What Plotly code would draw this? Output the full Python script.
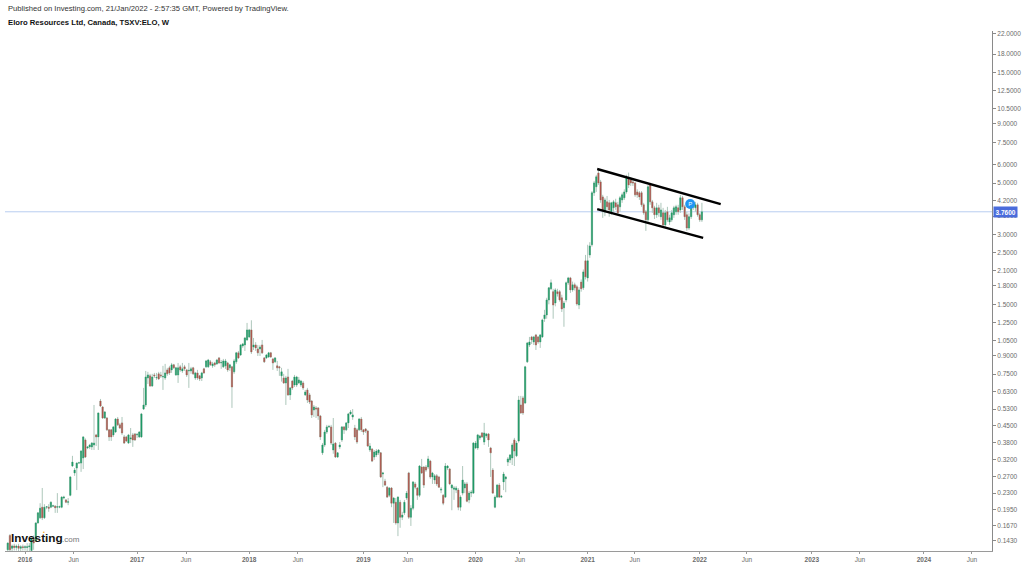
import math
import pandas as pd
import plotly.graph_objects as go

start_week = "2015-11-09"

opens = [
.131,.151,.133,.136,.134,.136,.133,.135,.134,.134,
.135,.130,.147,.143,.171,.180,.200,.180,.200,.200,
.200,.202,.202,.200,.200,.200,.219,.215,.210,.225,
.301,.281,.295,.310,.310,.326,.390,.360,.364,.364,
.371,.410,.402,.574,.541,.485,.485,.431,.431,.410,
.422,.480,.453,.462,.402,.402,.378,.394,.410,.414,
.410,.402,.402,.530,.552,.722,.737,.667,.744,.722,
.752,.744,.729,.722,.782,.798,.782,.822,.744,.744,
.806,.774,.806,.782,.774,.774,.798,.722,.759,.737,
.722,.790,.806,.806,.847,.814,.838,.830,.881,.838,
.806,.814,.838,.798,.806,.767,.847,.926,.907,.992,
1.002,1.053,1.085,1.163,.982,1.002,.963,.963,1.002,.881,
.881,.889,.926,.872,.847,.814,.806,.737,.722,.687,
.729,.610,.700,.673,.673,.687,.673,.687,.610,.641,
.610,.574,.525,.536,.536,.495,.343,.371,.422,.444,
.444,.353,.378,.329,.364,.390,.444,.431,.462,.505,
.490,.439,.431,.431,.480,.431,.435,.426,.353,.356,
.329,.336,.343,.343,.278,.259,.244,.225,.242,.208,
.210,.171,.210,.181,.189,.219,.281,.181,.198,.252,
.242,.225,.298,.298,.298,.298,.316,.270,.262,.273,
.270,.237,.225,.221,.295,.292,.242,.239,.237,.237,
.200,.230,.242,.252,.215,.230,.230,.360,.360,.398,
.418,.382,.406,.414,.360,.289,.200,.221,.249,.221,
.257,.265,.313,.320,.326,.390,.333,.386,.552,.592,
.563,.847,1.002,1.085,1.032,1.107,1.085,1.032,1.085,1.30,
1.35,1.567,1.75,1.70,1.52,1.70,1.70,1.60,1.448,1.567,
1.857,1.95,1.731,1.82,1.785,1.49,1.87,1.767,2.31,1.95,
2.45,2.71,4.54,4.82,5.53,5.06,4.36,3.76,4.15,4.11,
3.76,3.91,4.11,4.03,3.95,4.23,4.32,4.58,5.25,5.16,
5.06,5.01,4.58,4.54,4.54,4.03,3.76,3.47,4.91,4.15,
3.91,3.65,3.91,3.58,3.72,3.30,3.76,3.40,3.47,3.65,
3.76,3.91,3.83,4.32,3.95,3.65,3.20,3.58,3.95,3.91,
4.03,3.65,3.47]

closes = [
.140,.131,.136,.134,.136,.133,.135,.134,.135,.135,
.136,.147,.140,.171,.189,.198,.180,.200,.201,.198,
.210,.203,.199,.201,.201,.221,.221,.210,.211,.270,
.313,.289,.310,.311,.349,.402,.329,.364,.371,.378,
.378,.402,.510,.546,.485,.515,.431,.402,.402,.444,
.480,.453,.439,.418,.378,.386,.410,.398,.390,.390,
.412,.422,.505,.552,.729,.744,.667,.729,.737,.725,
.715,.737,.733,.759,.752,.759,.822,.798,.798,.798,
.782,.790,.790,.744,.778,.790,.752,.759,.722,.715,
.759,.759,.855,.863,.822,.830,.822,.863,.838,.842,
.855,.855,.782,.822,.660,.855,.926,.881,1.002,1.012,
1.074,1.163,1.163,.935,1.002,.973,.926,.982,.926,.847,
.907,.926,.889,.838,.881,.798,.798,.767,.687,.722,
.610,.654,.654,.729,.729,.708,.700,.654,.628,.580,
.568,.500,.541,.530,.495,.402,.371,.422,.444,.446,
.378,.375,.329,.343,.371,.444,.431,.462,.505,.515,
.500,.402,.382,.480,.431,.422,.426,.367,.367,.316,
.346,.349,.353,.270,.281,.249,.221,.242,.208,.219,
.171,.221,.181,.185,.210,.230,.181,.198,.257,.244,
.225,.301,.281,.249,.289,.323,.270,.281,.273,.252,
.244,.239,.208,.301,.301,.252,.249,.242,.242,.200,
.221,.262,.252,.212,.230,.232,.378,.378,.410,.406,
.402,.418,.414,.390,.343,.230,.221,.249,.221,.223,
.278,.270,.323,.336,.371,.349,.378,.580,.510,.510,
.806,1.022,1.032,1.053,1.085,1.002,1.032,1.107,1.285,1.35,
1.567,1.767,1.857,1.49,1.731,1.667,1.567,1.433,1.52,1.857,
1.95,1.731,1.82,1.767,1.505,1.731,1.75,2.07,1.97,2.31,
2.68,4.54,5.01,5.32,5.01,4.23,3.83,4.23,3.95,3.83,
4.11,4.15,3.95,3.72,4.32,4.45,4.58,5.25,4.91,5.01,
5.01,4.45,4.45,4.36,4.03,3.72,3.47,4.82,4.15,3.91,
3.65,3.91,3.72,3.83,3.30,3.72,3.47,3.54,3.72,3.91,
3.95,3.76,4.32,3.95,3.58,3.20,3.58,3.95,4.11,4.03,
3.65,3.47,3.76]

highs = [
.141,.153,.138,.139,.138,.139,.137,.138,.137,.140,
.140,.148,.151,.172,.190,.208,.242,.206,.202,.206,
.212,.205,.204,.230,.203,.223,.224,.217,.219,.272,
.333,.295,.312,.314,.353,.404,.396,.367,.375,.382,
.552,.414,.510,.586,.546,.520,.490,.435,.435,.448,
.485,.490,.462,.490,.410,.406,.414,.439,.418,.418,
.418,.426,.510,.654,.774,.767,.752,.752,.759,.759,
.767,.767,.814,.830,.798,.814,.838,.830,.806,.838,
.822,.838,.822,.790,.838,.806,.806,.767,.782,.744,
.767,.798,.863,.872,.863,.847,.847,.872,.889,.863,
.872,.872,.847,.830,.814,.872,.935,.944,1.012,1.022,
1.085,1.247,1.175,1.28,1.074,1.03,1.002,1.002,1.053,.889,
.916,.935,.935,.881,.889,.855,.814,.798,.752,.737,
.790,.660,.708,.744,.737,.729,.708,.700,.641,.654,
.622,.580,.552,.546,.541,.500,.378,.431,.453,.453,
.453,.485,.382,.346,.382,.448,.448,.466,.510,.525,
.530,.453,.439,.485,.490,.435,.439,.431,.378,.360,
.353,.356,.356,.346,.284,.265,.247,.244,.244,.221,
.219,.223,.215,.191,.215,.235,.284,.204,.259,.257,
.244,.304,.323,.301,.304,.333,.320,.284,.278,.278,
.273,.244,.228,.310,.304,.295,.252,.247,.247,.242,
.225,.301,.257,.257,.235,.237,.382,.386,.414,.410,
.422,.462,.418,.418,.364,.295,.225,.252,.254,.225,
.284,.273,.329,.339,.378,.398,.386,.604,.604,.604,
.814,1.032,1.085,1.096,1.096,1.118,1.096,1.118,1.30,1.42,
1.60,1.78,1.92,1.75,1.76,1.75,1.73,1.65,1.55,1.88,
1.97,1.97,1.88,1.86,1.82,1.78,1.92,2.12,2.45,2.71,
2.78,4.62,5.11,5.43,5.70,5.16,4.45,4.32,4.40,4.23,
4.15,4.23,4.28,4.15,4.40,4.55,4.70,5.43,5.55,5.30,
5.16,5.06,4.70,4.62,4.62,4.11,3.83,4.91,5.01,4.23,
3.99,4.11,4.03,4.11,3.91,3.83,3.95,3.65,3.83,3.99,
4.03,4.03,4.45,4.40,4.03,3.76,3.70,4.11,4.20,4.15,
4.11,3.72,4.11]

lows = [
.129,.129,.129,.130,.130,.129,.129,.130,.130,.129,
.129,.129,.131,.142,.170,.178,.176,.178,.196,.191,
.198,.200,.189,.189,.198,.198,.216,.208,.204,.223,
.298,.273,.237,.307,.284,.292,.326,.356,.356,.353,
.353,.367,.353,.541,.480,.480,.426,.386,.386,.402,
.418,.448,.435,.410,.375,.382,.375,.378,.364,.386,
.398,.398,.398,.525,.541,.680,.660,.660,.722,.708,
.708,.722,.641,.708,.737,.744,.759,.790,.737,.687,
.767,.759,.774,.729,.654,.752,.744,.708,.708,.700,
.700,.752,.798,.798,.814,.798,.806,.822,.830,.790,
.798,.790,.767,.774,.536,.752,.830,.872,.898,.973,
.944,1.043,1.074,.916,.953,.944,.898,.898,.916,.838,
.872,.881,.881,.782,.838,.774,.737,.696,.680,.552,
.604,.580,.641,.660,.660,.680,.660,.641,.604,.563,
.557,.485,.490,.485,.476,.390,.336,.364,.414,.439,
.371,.340,.326,.326,.356,.382,.414,.426,.439,.500,
.476,.390,.375,.426,.422,.410,.418,.364,.346,.313,
.320,.329,.336,.267,.244,.247,.219,.221,.200,.171,
.168,.150,.163,.176,.185,.215,.178,.166,.194,.239,
.215,.221,.278,.242,.284,.292,.265,.252,.252,.247,
.242,.230,.204,.219,.289,.249,.194,.215,.230,.194,
.193,.225,.230,.210,.208,.221,.228,.356,.353,.390,
.398,.371,.398,.364,.270,.228,.198,.219,.219,.219,
.237,.232,.301,.310,.304,.301,.329,.380,.505,.500,
.557,.838,.982,1.012,1.002,.953,1.012,.973,1.074,1.26,
1.30,1.50,1.73,1.30,1.47,1.62,1.54,1.39,1.20,1.53,
1.82,1.68,1.70,1.72,1.48,1.43,1.70,1.73,1.92,1.88,
2.38,2.66,4.40,4.58,4.91,4.11,3.54,3.60,3.83,3.58,
3.65,3.76,3.83,3.65,3.76,4.11,4.23,4.50,4.76,4.86,
4.86,4.36,4.32,4.23,3.95,3.65,3.11,3.40,4.03,3.72,
3.50,3.54,3.58,3.47,3.25,3.22,3.40,3.30,3.40,3.54,
3.65,3.65,3.72,3.83,3.47,3.11,3.14,3.50,3.83,3.76,
3.58,3.40,3.40]

x_tick_dates = ["2016-01-04","2016-06-10","2017-01-02","2017-06-10","2018-01-01","2018-06-08",
                "2019-01-07","2019-05-31","2020-01-06","2020-05-29","2021-01-04","2021-06-06",
                "2022-01-03","2022-06-05","2023-01-02","2023-06-07","2024-01-01","2024-06-05"]
x_tick_text = ["<b>2016</b>","Jun","<b>2017</b>","Jun","<b>2018</b>","Jun","<b>2019</b>","Jun","<b>2020</b>","Jun",
               "<b>2021</b>","Jun","<b>2022</b>","Jun","<b>2023</b>","Jun","<b>2024</b>","Jun"]
y_tick_values = [22,18,15,12.5,10.5,9,7.5,6,5,4.2,3.6,3,2.5,2.1,1.8,1.5,1.25,1.05,0.9,0.75,0.63,0.53,
                 0.45,0.38,0.32,0.27,0.23,0.195,0.167,0.143]
y_tick_text = [f"{v:.4f}" for v in y_tick_values]

last_price = 3.76
upper_channel_dates = ["2021-02-04", "2022-03-12"]
upper_channel_prices = [5.75, 4.06]
lower_channel_dates = ["2021-02-04", "2022-01-14"]
lower_channel_prices = [3.86, 2.90]
idea_date = ["2021-12-03"]
idea_price = [4.06]

dates = pd.date_range(start_week, periods=len(opens), freq="7D")
body_hi = [max(o, c) for o, c in zip(opens, closes)]
body_lo = [min(o, c) for o, c in zip(opens, closes)]

GREEN, RED, WICK = "#1f9a66", "#ad544c", "#adc7bb"

fig = go.Figure()
fig.add_trace(go.Candlestick(x=dates, open=opens, high=highs, low=lows, close=closes, whiskerwidth=0,
    increasing=dict(line=dict(color=WICK, width=1), fillcolor=WICK),
    decreasing=dict(line=dict(color=WICK, width=1), fillcolor=WICK), hoverinfo="skip"))
fig.add_trace(go.Candlestick(x=dates, open=opens, high=body_hi, low=body_lo, close=closes, whiskerwidth=0,
    increasing=dict(line=dict(color=GREEN, width=0.3), fillcolor=GREEN),
    decreasing=dict(line=dict(color=RED, width=0.3), fillcolor=RED), hoverinfo="skip"))
for xs, ys in ((upper_channel_dates, upper_channel_prices), (lower_channel_dates, lower_channel_prices)):
    fig.add_trace(go.Scatter(x=xs, y=ys, mode="lines", line=dict(color="#000000", width=2.4), hoverinfo="skip"))
fig.add_trace(go.Scatter(x=idea_date, y=idea_price, mode="markers+text", text=["P"], textposition="middle center",
    textfont=dict(color="#ffffff", size=6, family="Liberation Sans"),
    marker=dict(color="#2196f3", size=10), hoverinfo="skip"))

LABEL = "#6b6b6b"
anns = [
    dict(x=6, y=9, text="Published on Investing.com, 21/Jan/2022 - 2:57:35 GMT, Powered by TradingView.",
         font=dict(size=7.65, color="#333333")),
    dict(x=6, y=22, text="<b>Eloro Resources Ltd, Canada, TSXV:ELO, W</b>", font=dict(size=7.7, color="#111111")),
    dict(x=9, y=538, text="<b>Investing</b>", font=dict(size=11.8, color="#111111")),
    dict(x=59.5, y=539, text=".com", font=dict(size=8, color="#777777")),
    dict(x=41, y=532, text="<b>•</b>", font=dict(size=5, color="#f5a623")),
]
W, H, ML, MR, MT, MB = 1024, 564, 5, 32, 31, 13
annotations = []
for a in anns:
    annotations.append(dict(xref="paper", yref="paper", x=(a["x"] - ML) / (W - ML - MR),
        y=1 - (a["y"] - MT) / (H - MT - MB), xanchor="left", yanchor="middle", showarrow=False,
        text=a["text"], font=dict(family="Liberation Sans", **a["font"])))
annotations.append(dict(xref="paper", yref="y", x=1, y=math.log10(last_price), xanchor="left", yanchor="middle",
    xshift=1, showarrow=False, text=f"<b>{last_price:.4f}</b>", bgcolor="#4a6cdc", borderpad=1.5,
    font=dict(family="Liberation Sans", size=6.5, color="#ffffff")))

fig.update_layout(
    width=W, height=H, margin=dict(l=ML, r=MR, t=MT, b=MB, autoexpand=False), paper_bgcolor="#ffffff", plot_bgcolor="#ffffff",
    showlegend=False, boxmode="overlay", boxgap=0.22, annotations=annotations,
    shapes=[dict(type="line", xref="paper", yref="y", x0=0, x1=1, y0=last_price, y1=last_price,
                 line=dict(color="#b8cdf0", width=1), layer="below")],
    xaxis=dict(type="date", range=["2015-10-31", "2024-08-09"], rangeslider=dict(visible=False), automargin=False,
               tickmode="array", tickvals=x_tick_dates, ticktext=x_tick_text, showgrid=False, zeroline=False,
               showline=True, linecolor="#9a9a9a", linewidth=1, ticks="outside", ticklen=2, tickcolor="#9a9a9a",
               tickfont=dict(family="Liberation Sans", size=6.5, color=LABEL)),
    yaxis=dict(type="log", range=[-0.888, 1.355], side="right", tickmode="array", tickvals=y_tick_values, automargin=False,
               ticktext=y_tick_text, showgrid=False, zeroline=False, showline=True, linecolor="#8a8a8a", linewidth=1,
               ticks="outside", ticklen=3, tickcolor="#8a8a8a",
               tickfont=dict(family="Liberation Sans", size=6.5, color=LABEL)),
)
fig.write_html("out.html", config={"displayModeBar": False},
               post_script="document.body.style.margin='0';")
